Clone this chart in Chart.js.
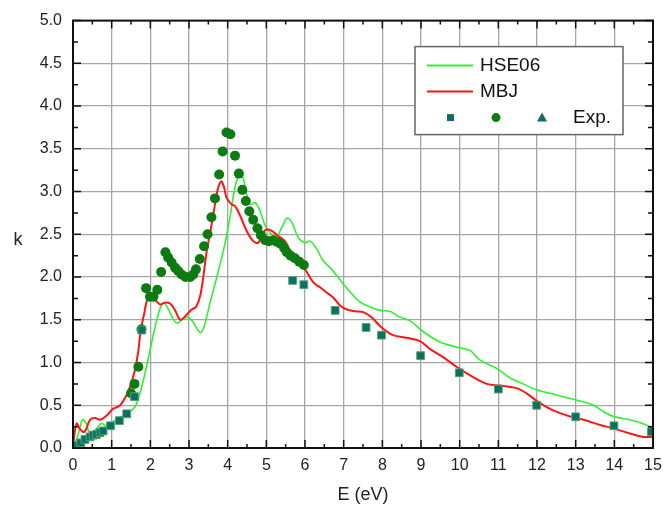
<!DOCTYPE html>
<html lang="en">
<head>
<meta charset="UTF-8">
<title>k vs E</title>
<script src="https://cdn.jsdelivr.net/npm/chart.js@4.4.1/dist/chart.umd.min.js"></script>
<style>
  body { margin: 0; background: #fff; }
  canvas { display: block; }
</style>
</head>
<body>
<canvas id="grafico" width="663" height="506"></canvas>
<script>
// HSE06 curve
var hseE = [0, 0.07, 0.14, 0.25, 0.34, 0.42, 0.57, 0.74, 0.87, 1.04, 1.22, 1.39, 1.6, 1.73, 1.86, 1.99, 2.12, 2.25, 2.35, 2.46,
  2.59, 2.7, 2.84, 2.98, 3.11, 3.2, 3.3, 3.39, 3.54, 3.76, 3.93, 4.06, 4.19, 4.32, 4.4, 4.49, 4.58, 4.71, 4.84, 4.97,
  5.09, 5.27, 5.4, 5.54, 5.66, 5.83, 6.0, 6.13, 6.3, 6.47, 6.69, 6.9, 7.16, 7.42, 7.68, 7.94, 8.2, 8.41, 8.71, 9.06,
  9.49, 9.92, 10.27, 10.52, 10.96, 11.3, 11.64, 11.99, 12.34, 12.68, 13.11, 13.46, 13.67, 13.97, 14.4, 14.71, 15];
var hseK = [0, 0.08, 0.17, 0.33, 0.29, 0.19, 0.21, 0.29, 0.25, 0.31, 0.36, 0.40, 0.48, 0.64, 0.87, 1.14, 1.41, 1.63, 1.70, 1.63,
  1.51, 1.46, 1.51, 1.53, 1.47, 1.40, 1.35, 1.42, 1.69, 2.07, 2.39, 2.70, 3.05, 3.22, 3.16, 2.97, 2.85, 2.87, 2.77, 2.60,
  2.52, 2.48, 2.58, 2.69, 2.64, 2.46, 2.40, 2.42, 2.33, 2.19, 2.09, 1.97, 1.83, 1.71, 1.65, 1.61, 1.60, 1.54, 1.49, 1.36,
  1.24, 1.18, 1.14, 1.03, 0.93, 0.82, 0.75, 0.68, 0.64, 0.60, 0.55, 0.50, 0.44, 0.37, 0.33, 0.29, 0.23];

// MBJ curve
var mbjE = [0, 0.05, 0.1, 0.18, 0.3, 0.44, 0.57, 0.7, 0.87, 1.04, 1.2, 1.34, 1.47, 1.6, 1.69, 1.75, 1.84, 1.92, 2.03, 2.15,
  2.25, 2.38, 2.51, 2.64, 2.78, 2.92, 3.07, 3.18, 3.3, 3.46, 3.54, 3.65, 3.74, 3.83, 3.9, 3.97, 4.1, 4.19, 4.32, 4.49,
  4.66, 4.79, 4.92, 5.01, 5.14, 5.31, 5.48, 5.61, 5.78, 6.0, 6.21, 6.39, 6.56, 6.73, 6.9, 7.08, 7.3, 7.51, 7.72, 7.98,
  8.28, 8.63, 8.97, 9.23, 9.58, 9.92, 10.27, 10.7, 11.04, 11.47, 11.73, 12.03, 12.42, 12.85, 13.2, 13.63, 13.97, 14.4, 14.75, 15];
var mbjK = [0.02, 0.2, 0.29, 0.22, 0.19, 0.33, 0.35, 0.33, 0.38, 0.46, 0.49, 0.58, 0.71, 0.91, 1.14, 1.37, 1.57, 1.73, 1.76, 1.72,
  1.68, 1.70, 1.69, 1.61, 1.50, 1.55, 1.62, 1.65, 1.80, 2.31, 2.50, 2.79, 3.02, 3.12, 3.06, 2.93, 2.85, 2.83, 2.72, 2.54,
  2.42, 2.40, 2.52, 2.56, 2.54, 2.48, 2.42, 2.31, 2.19, 2.09, 1.94, 1.88, 1.82, 1.76, 1.67, 1.62, 1.60, 1.59, 1.53, 1.41,
  1.32, 1.29, 1.25, 1.16, 1.06, 0.95, 0.85, 0.75, 0.73, 0.70, 0.64, 0.54, 0.44, 0.37, 0.33, 0.27, 0.23, 0.17, 0.13, 0.13];

// Exp. squares
var expCuadE = [0.11, 0.2, 0.31, 0.44, 0.52, 0.61, 0.7, 0.78, 0.97, 1.2, 1.39, 1.59, 1.78,
  5.68, 5.97, 6.78, 7.58, 7.98, 8.99, 9.99, 11.0, 11.99, 13.0, 13.99, 14.96];
var expCuadK = [0.03, 0.06, 0.10, 0.13, 0.15, 0.16, 0.18, 0.20, 0.26, 0.32, 0.40, 0.60, 1.38,
  1.96, 1.91, 1.61, 1.41, 1.32, 1.08, 0.88, 0.69, 0.50, 0.365, 0.26, 0.19];

// Exp. circles
var expCircE = [1.5, 1.59, 1.69, 1.77, 1.89, 1.99, 2.08, 2.18, 2.28, 2.39, 2.46, 2.55, 2.64, 2.72, 2.81, 2.91, 3.03, 3.11, 3.18, 3.28,
  3.39, 3.48, 3.58, 3.67, 3.78, 3.87, 3.97, 4.07, 4.19, 4.29, 4.38, 4.47, 4.56, 4.66, 4.77, 4.86, 4.97, 5.07, 5.18, 5.28,
  5.37, 5.46, 5.53, 5.63, 5.74, 5.85, 5.97];
var expCircK = [0.64, 0.75, 0.95, 1.39, 1.87, 1.77, 1.77, 1.85, 2.06, 2.29, 2.23, 2.17, 2.11, 2.07, 2.03, 2.00, 2.00, 2.03, 2.09, 2.21,
  2.36, 2.50, 2.70, 2.92, 3.20, 3.47, 3.69, 3.67, 3.42, 3.21, 3.02, 2.89, 2.77, 2.67, 2.57, 2.49, 2.43, 2.42, 2.43, 2.41,
  2.39, 2.34, 2.29, 2.25, 2.22, 2.18, 2.14];

// Exp. triangles (none visible in the plot area)
var expTriE = [];
var expTriK = [];

var verde = '#2ef22e';
var rojo = '#ff1414';
var colCuad = '#0e6e66';
var colCirc = '#0c7c12';
var fuente = '"Liberation Sans", Arial, sans-serif';

function pares(xs, ys) {
  var out = [];
  for (var i = 0; i < xs.length; i++) {
    out.push({ x: xs[i], y: ys[i] });
  }
  return out;
}

var marco = {
  id: 'marco',
  afterDraw: function(chart) {
    var ctx = chart.ctx;
    var a = chart.chartArea;
    var sx = chart.scales.x;
    var sy = chart.scales.y;
    ctx.save();
    // frame
    ctx.strokeStyle = '#111';
    ctx.lineWidth = 2;
    ctx.strokeRect(a.left, a.top, a.right - a.left, a.bottom - a.top);
    // inward ticks
    ctx.lineWidth = 1.5;
    ctx.beginPath();
    for (var v = 0; v <= 15; v += 0.5) {
      var px = sx.getPixelForValue(v);
      var len = (v % 1 === 0) ? 8 : 4;
      ctx.moveTo(px, a.bottom); ctx.lineTo(px, a.bottom - len);
      ctx.moveTo(px, a.top); ctx.lineTo(px, a.top + len);
    }
    for (var w = 0; w <= 5; w += 0.25) {
      var py = sy.getPixelForValue(w);
      var l2 = (Math.round(w * 4) % 2 === 0) ? 8 : 5;
      ctx.moveTo(a.left, py); ctx.lineTo(a.left + l2, py);
      ctx.moveTo(a.right, py); ctx.lineTo(a.right - l2, py);
    }
    ctx.stroke();

    // y title, upright
    ctx.fillStyle = '#222';
    ctx.font = '18px ' + fuente;
    ctx.textAlign = 'center';
    ctx.textBaseline = 'middle';
    ctx.fillText('k', 18, (a.top + a.bottom) / 2 + 6);

    // legend
    var lx = a.right - 238;
    var ly = a.top + 26;
    ctx.fillStyle = '#fff';
    ctx.fillRect(lx, ly, 208, 88);
    ctx.strokeStyle = '#666';
    ctx.lineWidth = 1.5;
    ctx.strokeRect(lx, ly, 208, 88);

    ctx.lineWidth = 2;
    ctx.strokeStyle = verde;
    ctx.beginPath(); ctx.moveTo(lx + 12, ly + 19); ctx.lineTo(lx + 58, ly + 19); ctx.stroke();
    ctx.strokeStyle = rojo;
    ctx.beginPath(); ctx.moveTo(lx + 12, ly + 45); ctx.lineTo(lx + 58, ly + 45); ctx.stroke();

    ctx.fillStyle = '#111';
    ctx.font = '19px ' + fuente;
    ctx.textAlign = 'left';
    ctx.fillText('HSE06', lx + 65, ly + 19);
    ctx.fillText('MBJ', lx + 65, ly + 45);
    ctx.fillText('Exp.', lx + 158, ly + 71);

    var ry = ly + 71;
    ctx.fillStyle = colCuad;
    ctx.fillRect(lx + 32, ry - 3.5, 7, 7);
    ctx.fillStyle = colCirc;
    ctx.beginPath(); ctx.arc(lx + 81, ry, 4.5, 0, Math.PI * 2); ctx.fill();
    ctx.fillStyle = colCuad;
    ctx.beginPath();
    ctx.moveTo(lx + 127, ry - 5); ctx.lineTo(lx + 132, ry + 4); ctx.lineTo(lx + 122, ry + 4);
    ctx.closePath(); ctx.fill();
    ctx.restore();
  }
};

new Chart(document.getElementById('grafico'), {
  type: 'scatter',
  data: {
    datasets: [{
      label: 'Exp. (cuadrados)',
      data: pares(expCuadE, expCuadK),
      pointStyle: 'rect',
      pointRadius: 5.5,
      backgroundColor: colCuad,
      borderColor: '#52a46e',
      borderWidth: 1
    }, {
      label: 'Exp. (circulos)',
      data: pares(expCircE, expCircK),
      pointStyle: 'circle',
      pointRadius: 5,
      backgroundColor: colCirc,
      borderColor: colCirc,
      borderWidth: 0
    }, {
      label: 'Exp. (triangulos)',
      data: pares(expTriE, expTriK),
      pointStyle: 'triangle',
      pointRadius: 5,
      backgroundColor: colCuad,
      borderWidth: 0
    }, {
      label: 'MBJ',
      data: pares(mbjE, mbjK),
      showLine: true,
      pointRadius: 0,
      borderColor: rojo,
      borderWidth: 2,
      tension: 0.35
    }, {
      label: 'HSE06',
      data: pares(hseE, hseK),
      showLine: true,
      pointRadius: 0,
      borderColor: verde,
      borderWidth: 1.6,
      tension: 0.35
    }]
  },
  options: {
    responsive: false,
    animation: false,
    events: [],
    layout: { padding: { top: 20, right: 10, left: 0, bottom: 0 } },
    plugins: {
      legend: { display: false },
      tooltip: { enabled: false }
    },
    scales: {
      x: {
        type: 'linear',
        min: 0,
        max: 15,
        afterFit: function(scale) {
          scale.height = 58;
          scale.paddingRight = 0;
          scale.paddingLeft = 0;
        },
        ticks: { stepSize: 1, color: '#222', padding: 8, maxRotation: 0, font: { size: 16, family: fuente } },
        grid: { color: '#a6a6a6', lineWidth: 1.3, drawTicks: false },
        border: { display: true, color: '#111', width: 2 },
        title: { display: true, text: 'E (eV)', color: '#222', padding: { top: 0, bottom: 0 }, font: { size: 18, family: fuente } }
      },
      y: {
        min: 0,
        max: 5,
        afterFit: function(scale) { scale.width = 73; },
        ticks: {
          stepSize: 0.5,
          color: '#222',
          padding: 11,
          font: { size: 16, family: fuente },
          callback: function(v) { return v.toFixed(1); }
        },
        grid: { color: '#a6a6a6', lineWidth: 1.3, drawTicks: false },
        border: { display: true, color: '#111', width: 2 }
      }
    }
  },
  plugins: [marco]
});
</script>
</body>
</html>
